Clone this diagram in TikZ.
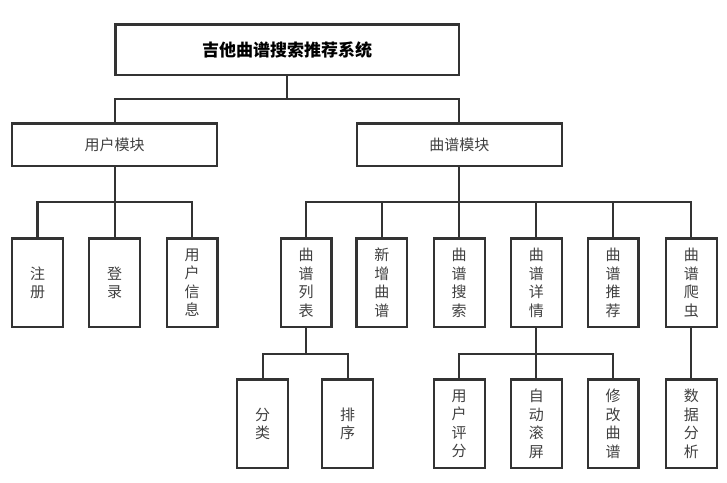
\documentclass[tikz,border=0pt]{standalone}
\usepackage{fontspec}
\newfontfamily\cjk{Noto Sans CJK SC}
\usepackage{tikz}

\tikzset{
  box/.style={draw=black!80, line width=2.2pt, outer sep=0pt, inner sep=0pt, text=black!75, font=\cjk\fontsize{15}{18.5}\selectfont},
  leaf/.style={box, minimum width=50.8pt, minimum height=88.5pt, align=center},
  link/.style={draw=black!80, line width=2.2pt}
}

\begin{document}
\begin{tikzpicture}[x=1pt, y=-1pt]
\useasboundingbox (0,0) rectangle (727,482);

\node[box, minimum width=343.5pt, minimum height=50.5pt, text=black, font=\cjk\bfseries\fontsize{17}{20}\selectfont] (root) at (287.2,49.7) {吉他曲谱搜索推荐系统};
\node[box, minimum width=205.1pt, minimum height=42.2pt] (user) at (114.7,144.5) {用户模块};
\node[box, minimum width=205.1pt, minimum height=42.2pt] (song) at (459.3,144.5) {曲谱模块};

% second level
\foreach \name/\x/\txt in {reg/37.5/{注\\册}, login/114.7/{登\\录}, info/192/{用\\户\\信\\息},
    list/306/{曲\\谱\\列\\表}, add/381.8/{新\\增\\曲\\谱}, search/459.2/{曲\\谱\\搜\\索},
    detail/536.3/{曲\\谱\\详\\情}, rec/613/{曲\\谱\\推\\荐}, crawl/691.3/{曲\\谱\\爬\\虫}}
	\node[leaf] (\name) at (\x,282.7) {\txt};

% third level
\foreach \name/\x/\txt in {cat/262.7/{分\\类}, sort/347.7/{排\\序},
    rate/459.2/{用\\户\\评\\分}, scroll/536.3/{自\\动\\滚\\屏}, edit/613/{修\\改\\曲\\谱},
    data/691.3/{数\\据\\分\\析}}
	\node[leaf] (\name) at (\x,423.8) {\txt};

\coordinate (rootbus) at (287.2,98.7);
\coordinate (userbus) at (114.7,202.3);
\coordinate (songbus) at (459.3,202.3);
\coordinate (listbus) at (306,354);
\coordinate (detailbus) at (536.3,354);

\draw[link] (root.south) -- (rootbus);
\draw[link] (user.north) |- (rootbus) -| (song.north);

\draw[link] (user.south) -- (userbus);
\draw[link] (reg.north) |- (userbus) -| (info.north);
\draw[link] (login.north) -- (login.north |- userbus);

\draw[link] (song.south) -- (songbus);
\draw[link] (list.north) |- (songbus) -| (crawl.north);
\foreach \c in {add,search,detail,rec}
	\draw[link] (\c.north) -- (\c.north |- songbus);

\draw[link] (list.south) -- (listbus);
\draw[link] (cat.north) |- (listbus) -| (sort.north);

\draw[link] (detail.south) -- (detailbus);
\draw[link] (rate.north) |- (detailbus) -| (edit.north);
\draw[link] (scroll.north) -- (scroll.north |- detailbus);

\draw[link] (crawl.south) -- (data.north);
\end{tikzpicture}
\end{document}
